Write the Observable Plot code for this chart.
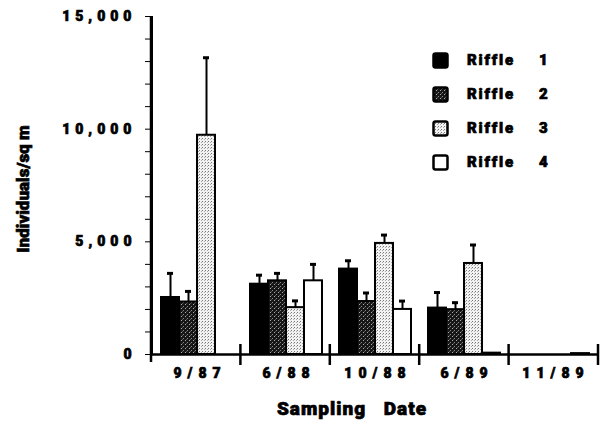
<!DOCTYPE html>
<html><head><meta charset="utf-8">
<script src="https://cdn.jsdelivr.net/npm/d3@7"></script>
<script src="https://cdn.jsdelivr.net/npm/@observablehq/plot@0.6"></script>
<style>
body{margin:0;background:#fff;}
#wrap{position:relative;width:607px;height:436px;}
#wrap svg text{font-family:Roboto,"Liberation Sans",sans-serif;font-weight:900;stroke:black;stroke-width:0.7px;}
.legend{position:absolute;left:432px;top:43px;font-family:Roboto,"Liberation Sans",sans-serif;font-weight:900;font-size:15px;-webkit-text-stroke:0.7px black;}
.legend .row{display:flex;align-items:center;height:34px;}
.legend .lab{margin-left:18px;letter-spacing:1.8px;width:70px;}
.legend .num{margin-left:2px;}
</style></head>
<body>
<svg width="0" height="0" style="position:absolute">
<defs>
<pattern id="p2" width="4" height="4" patternUnits="userSpaceOnUse">
 <rect width="4" height="4" fill="#161616"/>
 <rect x="0" y="0" width="1" height="1" fill="#aaa"/>
 <rect x="2" y="2" width="1" height="1" fill="#888"/>
 <rect x="1" y="3" width="1" height="1" fill="#555"/>
</pattern>
<pattern id="p3" width="3" height="3" patternUnits="userSpaceOnUse">
 <rect width="3" height="3" fill="#f2f2f2"/>
 <rect x="0" y="0" width="1" height="1" fill="#777"/>
 <rect x="2" y="1" width="1" height="1" fill="#aaa"/>
</pattern>
</defs></svg>
<div id="wrap"></div>
<script>
const dates = ["9/87", "6/88", "10/88", "6/89", "11/89"];
const riffles = ["Riffle 1", "Riffle 2", "Riffle 3", "Riffle 4"];
const riffle1 = [2530, 3120, 3790, 2060, 0];
const riffle2 = [2330, 3270, 2350, 1990, 0];
const riffle3 = [9730, 2080, 4930, 4040, 0];
const riffle4 = [null, 3270, 2000, 60, 40];
const riffle1Err = [1070, 400, 370, 690, 0];
const riffle2Err = [470, 330, 380, 310, 0];
const riffle3Err = [3440, 300, 370, 820, 0];
const riffle4Err = [null, 730, 370, 0, 0];
const yTicks = [0, 1000, 2000, 3000, 4000, 5000, 6000, 7000, 8000, 9000, 10000, 11000, 12000, 13000, 14000, 15000];
const yLabelTicks = [0, 5000, 10000, 15000];
const fills = ["black", "url(#p2)", "url(#p3)", "white"];

const values = [riffle1, riffle2, riffle3, riffle4];
const errs = [riffle1Err, riffle2Err, riffle3Err, riffle4Err];
const data = [];
dates.forEach((d, i) => riffles.forEach((r, j) => {
  const v = values[j][i];
  if (v == null) return;
  data.push({date: d, riffle: r, value: v, err: errs[j][i]});
}));

const plot = Plot.plot({
  width: 607, height: 436,
  marginLeft: 151, marginRight: 9, marginTop: 16, marginBottom: 82,
  facet: {data, x: "date"},
  fx: {domain: dates, padding: 0, label: null, axis: "bottom", tickSize: 0, tickPadding: 14},
  x: {domain: riffles, paddingInner: 0, paddingOuter: 0.435, axis: null},
  y: {domain: [0, 15000], ticks: yTicks, tickSize: 7, tickPadding: 9, label: null, line: true,
      tickFormat: d => yLabelTicks.includes(d) ? d3.format(",")(d) : ""},
  color: {domain: riffles, range: fills},
  style: {fontSize: "14px", background: "white", overflow: "visible"},
  marks: [
    Plot.barY(data, {x: "riffle", y: "value", fill: "riffle", stroke: "black", strokeWidth: 2}),
    Plot.ruleX(data, {filter: d => d.err > 0, x: "riffle", y1: "value", y2: d => d.value + d.err, stroke: "black", strokeWidth: 2}),
    Plot.tickY(data, {filter: d => d.err > 0, x: "riffle", y: d => d.value + d.err, stroke: "black", strokeWidth: 3, insetLeft: 6, insetRight: 6}),
    Plot.ruleY([0], {stroke: "black", strokeWidth: 2.5})
  ]
});
document.getElementById("wrap").appendChild(plot);

const svg = d3.select(plot);
svg.selectAll("g[aria-label='y-axis'] path, g[aria-label='y-axis'] line").attr("stroke-width", 2.5);
svg.selectAll("[aria-label='y-axis'] text, [aria-label='y-axis tick label'] text").style("letter-spacing", "5px");
svg.selectAll("[aria-label='fx-axis'] text, [aria-label='fx-axis tick label'] text").style("letter-spacing", "6px").attr("dx", "3px");

const fxs = plot.scale("fx");
const ys = plot.scale("y");
const band = d3.scaleBand().domain(fxs.domain).range(fxs.range).padding(0);
const y0 = ys.range[0];
const g = svg.append("g").attr("stroke", "black").attr("stroke-width", 2.5);
g.selectAll("line.b").data(dates).join("line")
  .attr("x1", d => band(d) + band.bandwidth()).attr("x2", d => band(d) + band.bandwidth())
  .attr("y1", y0 - 10).attr("y2", y0 + 11);
g.append("line").attr("x1", fxs.range[0]).attr("x2", fxs.range[0]).attr("y1", ys.range[1]).attr("y2", y0 + 8);

svg.append("text").text("Sampling Date")
  .attr("x", 352).attr("y", y0 + 61).attr("text-anchor", "middle")
  .style("font-size", "19px").style("letter-spacing", "1px").style("word-spacing", "12px");
svg.append("text").text("Individuals/sq m")
  .attr("transform", `translate(29,189) rotate(-90)`)
  .attr("text-anchor", "middle").style("font-size", "17px");

const leg = d3.select("#wrap").append("div").attr("class", "legend");
riffles.forEach((r, j) => {
  const row = leg.append("div").attr("class", "row");
  const s = row.append("svg").attr("width", 17).attr("height", 17);
  s.append("rect").attr("x", 1.5).attr("y", 1.5).attr("width", 14).attr("height", 14).attr("rx", 2)
    .attr("fill", fills[j]).attr("stroke", "black").attr("stroke-width", 2.5);
  const parts = r.split(" ");
  row.append("span").attr("class", "lab").text(parts[0]);
  row.append("span").attr("class", "num").text(parts[1]);
});
</script>
</body></html>
